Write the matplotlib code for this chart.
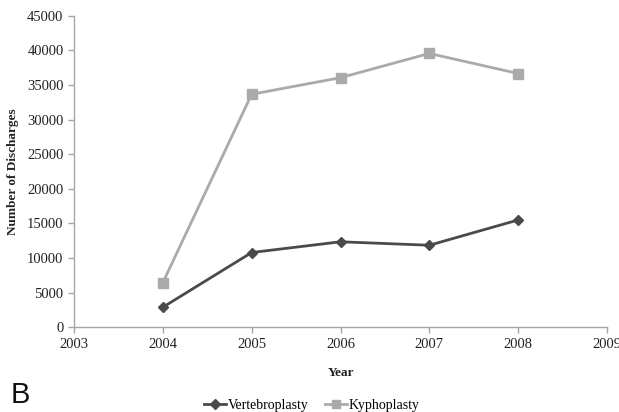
import matplotlib.pyplot as plt
from matplotlib.lines import Line2D

years = [2004, 2005, 2006, 2007, 2008]
vertebroplasty = [2900, 10800, 12350, 11850, 15500]
kyphoplasty = [6450, 33650, 36050, 39550, 36650]

dark = '#4a4a4a'
light = '#aaaaaa'
axis_col = '#a6a6a6'

plt.rcParams['font.family'] = ['Liberation Serif', 'DejaVu Serif']

fig = plt.figure(figsize=(6.19, 4.12), dpi=100)
ax = fig.add_axes([74 / 619, 1 - 327.3 / 412, 533 / 619, 311.6 / 412])

ax.plot(years, vertebroplasty, color=dark, lw=2.0, marker='D', ms=5.5,
        label='Vertebroplasty')
ax.plot(years, kyphoplasty, color=light, lw=2.0, marker='s', ms=7,
        label='Kyphoplasty')

ax.set_xlim(2003, 2009)
ax.set_ylim(0, 45000)
ax.set_xticks(range(2003, 2010))
ax.set_yticks(range(0, 45001, 5000))

for s in ['top', 'right']:
    ax.spines[s].set_visible(False)
for s in ['left', 'bottom']:
    ax.spines[s].set_color(axis_col)
    ax.spines[s].set_linewidth(1.0)
ax.tick_params(colors=axis_col, labelcolor='#222222', labelsize=10.5,
               length=4, width=1.0)

ax.set_ylabel('Number of Discharges', fontsize=9.5, fontweight='bold',
              color='#222222', labelpad=6)
ax.set_xlabel('Year', fontsize=9.5, fontweight='bold', color='#222222',
              labelpad=12)

handles = [Line2D([], [], color=dark, lw=2.0, marker='D', ms=5),
           Line2D([], [], color=light, lw=2.0, marker='s', ms=6)]
fig.legend(handles, ['Vertebroplasty', 'Kyphoplasty'], loc='center',
           bbox_to_anchor=(312 / 619, 1 - 405 / 412), ncol=2, frameon=False,
           fontsize=10, handlelength=1.6, handletextpad=0.1,
           columnspacing=1.2)

fig.text(11 / 619, 1 - 395 / 412, 'B', fontsize=21, va='center', ha='left',
         family=['Liberation Sans', 'DejaVu Sans'], color='#111111')

plt.savefig('out.png', dpi=100)
